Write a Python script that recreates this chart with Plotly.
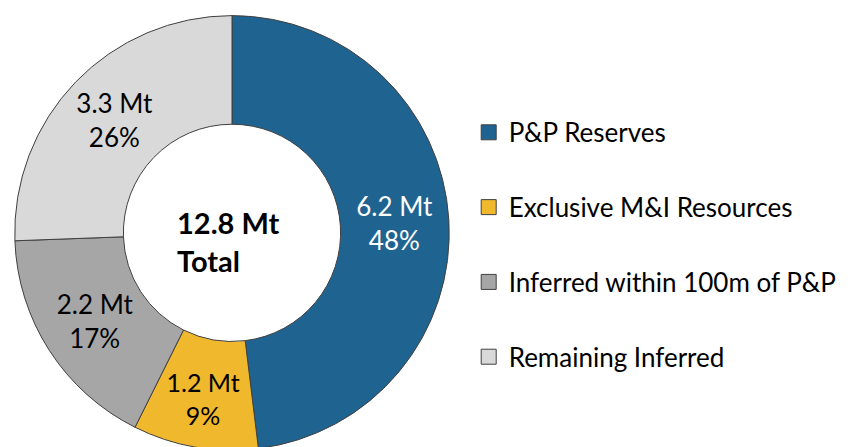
import plotly.graph_objects as go

categories = ["P&P Reserves", "Exclusive M&I Resources", "Inferred within 100m of P&P", "Remaining Inferred"]
values = [6.2, 1.2, 2.2, 3.3]
colors = ["#1F6391", "#F0B82D", "#A6A6A6", "#D9D9D9"]
text_colors = ["white", "black", "black", "black"]
center_text = "<b>12.8 Mt<br>Total</b>"

FONT = "Lato"

fig = go.Figure()
fig.add_trace(go.Pie(
    labels=categories, values=values, hole=0.5, sort=False, direction="clockwise",
    rotation=0,
    marker=dict(colors=colors, line=dict(color="#404040", width=1)),
    texttemplate="%{value} Mt<br>%{percent:.0%}",
    textposition="inside", insidetextorientation="horizontal",
    insidetextfont=dict(color=text_colors, size=26, family=FONT),
    domain=dict(x=[6/850, 442/850], y=[0.011, 0.983]),
    showlegend=False, hoverinfo="label+value+percent",
))
for name, col in zip(categories, colors):
    fig.add_trace(go.Scatter(
        x=[None], y=[None], mode="markers", name=name, legendgroup=name,
        marker=dict(symbol="square", size=15, color=col, line=dict(color="#404040", width=1)),
    ))

fig.add_annotation(x=220/850, y=(447-233)/447, xref="paper", yref="paper",
                   xanchor="center", yanchor="middle",
                   text=center_text, showarrow=False, align="left",
                   font=dict(size=29, family=FONT, color="black"))

fig.update_layout(
    width=850, height=447, margin=dict(l=0, r=0, t=0, b=0),
    paper_bgcolor="white", plot_bgcolor="white",
    xaxis=dict(visible=False), yaxis=dict(visible=False),
    legend=dict(x=0.542, y=0.47, xanchor="left", yanchor="middle",
                font=dict(size=26, family=FONT, color="black"),
                tracegroupgap=38, itemwidth=30, bgcolor="rgba(0,0,0,0)"),
    font=dict(family=FONT),
)
fig.write_html("out.html")
